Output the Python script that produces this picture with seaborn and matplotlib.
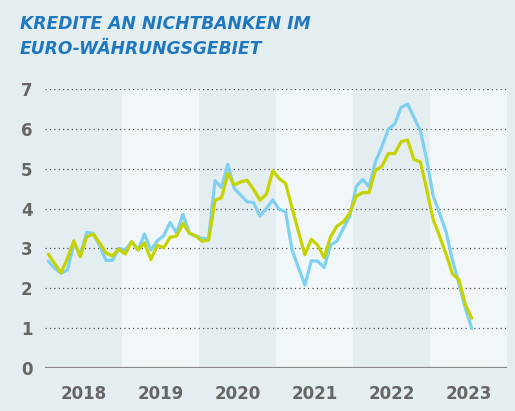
import numpy as np
import pandas as pd
import matplotlib
matplotlib.use("Agg")
import matplotlib.pyplot as plt
import seaborn as sns

# Monthly growth rates, Jan 2018 - Jul 2023 (%)
blue_vals = [2.68, 2.50, 2.38, 2.46, 3.12, 2.83, 3.40, 3.38, 3.08, 2.70, 2.70, 3.00,
             2.96, 3.17, 2.96, 3.36, 2.96, 3.19, 3.32, 3.65, 3.39, 3.86, 3.38, 3.31,
             3.25, 3.25, 4.70, 4.53, 5.11, 4.50, 4.34, 4.17, 4.15, 3.81, 4.00, 4.22,
             3.98, 3.92, 2.96, 2.52, 2.08, 2.69, 2.68, 2.52, 3.08, 3.19, 3.50, 3.81,
             4.55, 4.73, 4.55, 5.17, 5.55, 5.99, 6.12, 6.54, 6.62, 6.29, 5.95, 5.22,
             4.32, 3.88, 3.42, 2.71, 2.12, 1.50, 1.00]
green_vals = [2.86, 2.62, 2.39, 2.75, 3.19, 2.79, 3.29, 3.36, 3.14, 2.89, 2.81, 2.98,
              2.86, 3.17, 2.96, 3.14, 2.72, 3.08, 3.02, 3.28, 3.31, 3.63, 3.38, 3.31,
              3.18, 3.21, 4.21, 4.27, 4.88, 4.59, 4.67, 4.71, 4.48, 4.21, 4.36, 4.95,
              4.75, 4.63, 4.02, 3.42, 2.84, 3.23, 3.08, 2.77, 3.29, 3.56, 3.67, 3.88,
              4.31, 4.40, 4.40, 4.96, 5.06, 5.38, 5.38, 5.68, 5.72, 5.23, 5.17, 4.47,
              3.72, 3.31, 2.86, 2.36, 2.22, 1.60, 1.25]
years = ["2018", "2019", "2020", "2021", "2022", "2023"]
y_ticks = [0, 1, 2, 3, 4, 5, 6, 7]

BG = "#e4edf0"
BAND_LIGHT = "#f1f7f8"
BLUE = "#7fd0f1"
GREEN = "#c6d300"
TEXT_GREY = "#666666"
TITLE_BLUE = "#1f78be"

df = pd.DataFrame({
    "month": np.arange(len(blue_vals)),
    "blue": blue_vals,
    "green": green_vals,
})

sns.set_style("white")
plt.rcParams["font.family"] = ["DejaVu Sans"]

fig = plt.figure(figsize=(5.15, 4.11), dpi=100, facecolor=BG)
ax = fig.add_axes([45 / 515, 43 / 411, 462 / 515, 279 / 411])
ax.set_facecolor(BG)

# alternating year bands
for k in range(len(years)):
    if k % 2 == 1:
        ax.axvspan(12 * k - 0.5, 12 * k + 11.5, color=BAND_LIGHT, lw=0, zorder=0)

# dotted horizontal grid
for v in y_ticks[1:]:
    ax.axhline(v, color="#555555", lw=0.9, ls=(0, (1, 2.5)), zorder=1)
ax.axhline(0, color="#8a8a8a", lw=1.6, zorder=2)

sns.lineplot(data=df, x="month", y="blue", ax=ax, color=BLUE, lw=2.3, zorder=3)
sns.lineplot(data=df, x="month", y="green", ax=ax, color=GREEN, lw=2.3, zorder=4)

ax.set_xlim(-0.5, 71.5)
ax.set_ylim(0, 7)
ax.set_xticks([12 * k + 5.5 for k in range(len(years))])
ax.set_xticklabels(years)
ax.set_yticks(y_ticks)
ax.set_yticklabels([str(v) for v in y_ticks])
ax.tick_params(axis="both", length=0, labelsize=12, labelcolor=TEXT_GREY)
ax.tick_params(axis="x", pad=12)
ax.tick_params(axis="y", pad=9)
for lab in ax.get_xticklabels() + ax.get_yticklabels():
    lab.set_fontweight("bold")
ax.set_xlabel("")
ax.set_ylabel("")
for s in ax.spines.values():
    s.set_visible(False)

fig.text(20 / 515, 1 - 29 / 411, "KREDITE AN NICHTBANKEN IM", color=TITLE_BLUE,
         fontsize=12.3, fontweight="bold", fontstyle="italic", va="baseline", ha="left")
fig.text(20 / 515, 1 - 54 / 411, "EURO-WÄHRUNGSGEBIET", color=TITLE_BLUE,
         fontsize=12.3, fontweight="bold", fontstyle="italic", va="baseline", ha="left")

fig.savefig("out.png", dpi=100, facecolor=BG)
